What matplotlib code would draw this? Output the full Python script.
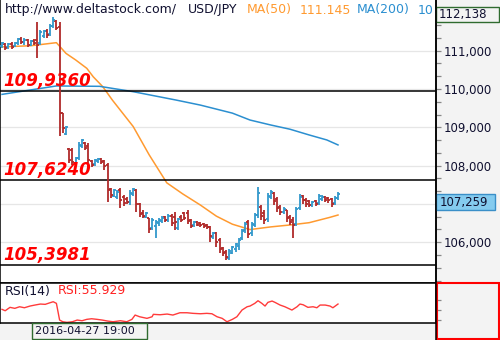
import matplotlib
matplotlib.use("Agg")
import matplotlib.pyplot as plt
from matplotlib.ticker import FixedLocator, MultipleLocator, FuncFormatter
from matplotlib.patches import Rectangle
from matplotlib.lines import Line2D
from matplotlib.transforms import blended_transform_factory


# DATA - hourly USD/JPY bars

opens = [111.12, 111.17, 111.10, 111.17, 111.12, 111.20, 111.31, 111.23, 111.28, 111.15,
         111.25, 111.28, 111.20, 111.38, 111.51, 111.44, 111.65, 111.78, 111.62, 109.37,
         108.83, 108.43, 108.41, 108.07, 108.20, 108.51, 108.59, 108.51, 108.12, 108.04,
         108.12, 108.17, 108.12, 108.02, 107.39, 107.21, 107.18, 107.36, 107.18, 107.13,
         107.05, 107.26, 107.36, 107.00, 106.76, 106.66, 106.63, 106.37, 106.42, 106.50,
         106.55, 106.66, 106.58, 106.68, 106.66, 106.37, 106.66, 106.76, 106.76, 106.58,
         106.45, 106.53, 106.50, 106.47, 106.45, 106.40, 106.14, 106.24, 106.06, 105.85,
         105.74, 105.59, 105.72, 105.82, 105.90, 106.11, 106.32, 106.53, 106.24, 106.45,
         106.71, 106.92, 106.76, 106.61, 107.18, 107.28, 107.13, 106.92, 106.79, 106.83,
         106.66, 106.58, 106.47, 106.89, 107.21, 107.10, 107.07, 106.97, 107.07, 107.02,
         107.13, 107.18, 107.15, 107.13, 107.02, 107.15]
highs = [111.23, 111.20, 111.20, 111.23, 111.23, 111.33, 111.36, 111.33, 111.31, 111.28,
         111.31, 111.75, 111.54, 111.54, 111.57, 111.70, 111.88, 111.80, 111.75, 109.37,
         109.03, 108.46, 108.46, 108.22, 108.62, 108.69, 108.62, 108.59, 108.15, 108.17,
         108.20, 108.20, 108.15, 108.07, 107.42, 107.39, 107.36, 107.42, 107.23, 107.18,
         107.36, 107.42, 107.39, 107.02, 106.84, 106.79, 106.63, 106.63, 106.58, 106.63,
         106.68, 106.68, 106.74, 106.74, 106.79, 106.63, 106.71, 106.79, 106.83, 106.61,
         106.55, 106.55, 106.53, 106.50, 106.47, 106.42, 106.27, 106.27, 106.11, 105.87,
         105.80, 105.82, 105.90, 105.98, 106.11, 106.35, 106.53, 106.58, 106.53, 106.76,
         107.44, 106.97, 106.84, 107.28, 107.36, 107.31, 107.18, 106.97, 106.92, 106.84,
         106.71, 106.66, 106.92, 107.26, 107.23, 107.15, 107.10, 107.07, 107.10, 107.26,
         107.23, 107.21, 107.18, 107.15, 107.21, 107.31]
lows = [111.07, 111.02, 111.04, 111.04, 111.10, 111.15, 111.17, 111.15, 111.10, 111.12,
        111.15, 110.81, 111.15, 111.33, 111.33, 111.38, 111.59, 111.54, 108.77, 108.85,
        108.80, 108.07, 108.02, 108.02, 108.15, 108.46, 108.41, 108.02, 107.96, 107.99,
        108.07, 108.04, 107.89, 107.05, 107.15, 107.18, 107.13, 106.89, 106.95, 107.00,
        106.97, 107.21, 106.79, 106.66, 106.63, 106.63, 106.24, 106.32, 106.11, 106.42,
        106.50, 106.53, 106.53, 106.42, 106.32, 106.32, 106.53, 106.58, 106.47, 106.37,
        106.40, 106.42, 106.40, 106.37, 106.35, 106.01, 106.08, 105.87, 105.72, 105.64,
        105.54, 105.54, 105.69, 105.74, 105.80, 106.06, 106.24, 106.11, 106.16, 106.40,
        106.63, 106.58, 106.47, 106.53, 107.13, 106.97, 106.79, 106.71, 106.74, 106.53,
        106.45, 106.11, 106.42, 106.84, 107.00, 106.92, 106.92, 106.92, 106.95, 106.97,
        107.07, 107.05, 107.02, 106.92, 106.97, 107.10]
closes = [111.20, 111.07, 111.17, 111.10, 111.20, 111.31, 111.23, 111.28, 111.15, 111.25,
          111.20, 111.15, 111.49, 111.51, 111.41, 111.65, 111.80, 111.59, 109.37, 108.98,
          109.01, 108.15, 108.09, 108.20, 108.54, 108.67, 108.46, 108.15, 108.02, 108.15,
          108.17, 108.09, 107.99, 107.36, 107.23, 107.36, 107.31, 107.10, 107.02, 107.05,
          107.28, 107.39, 107.00, 106.74, 106.68, 106.76, 106.35, 106.58, 106.53, 106.58,
          106.63, 106.58, 106.68, 106.50, 106.53, 106.61, 106.58, 106.63, 106.55, 106.42,
          106.53, 106.45, 106.45, 106.42, 106.40, 106.16, 106.24, 106.01, 105.82, 105.72,
          105.61, 105.77, 105.87, 105.95, 106.06, 106.29, 106.47, 106.21, 106.47, 106.71,
          107.28, 106.68, 106.58, 107.21, 107.31, 107.07, 106.89, 106.79, 106.87, 106.63,
          106.53, 106.45, 106.87, 107.18, 107.10, 107.00, 106.97, 107.05, 107.00, 107.21,
          107.18, 107.10, 107.10, 107.00, 107.15, 107.26]

# moving averages, read at a few bar positions
ma50_idx = [0, 9, 17, 20, 23, 26.5, 28.5, 31.5, 34.5, 41, 46, 51.5, 56.5, 62, 67, 72, 77.5, 84, 90, 96, 102.5, 105]
ma50_val = [111.10, 111.13, 111.21, 110.93, 110.76, 110.54, 110.32, 110.06, 109.71, 109.02, 108.28,
            107.55, 107.26, 106.97, 106.68, 106.47, 106.33, 106.40, 106.45, 106.51, 106.65, 106.71]
ma200_idx = [0, 17, 30.5, 41, 54.5, 62, 72, 77.5, 84, 90, 96, 101.5, 105]
ma200_val = [109.86, 110.08, 110.07, 109.93, 109.71, 109.58, 109.37, 109.19, 109.06, 108.95,
             108.80, 108.67, 108.54]

# RSI(14)
rsi_idx = [0, 1, 2.5, 4, 5.5, 7, 8.75, 10.3, 12, 13.5, 15, 16, 17, 18, 19, 20.3, 22, 23.5, 25,
           26.5, 28, 29.7, 31.3, 33, 34.7, 37, 39, 40.6, 41.6, 43, 45.3, 46.9, 47.3, 49.4, 51.6,
           53.4, 55.6, 57.8, 59.7, 62, 64, 65.6, 67.2, 68.8, 70.3, 72, 73.4, 75, 76.6, 77.5, 79,
           80, 81.2, 82.2, 83.1, 84.4, 85.3, 86.9, 88.4, 90.6, 92.2, 93.1, 94.1, 95.6, 97.2, 98.4,
           99.4, 101, 102.5, 103.4, 105]
rsi_val = [45.3, 42.5, 49.3, 47.3, 50.5, 48.5, 51.9, 53.9, 55.9, 55.3, 58.5, 60.5, 57.3, 23.9,
           20.5, 19.3, 20.5, 23.9, 22.5, 25.3, 26.5, 25.3, 23.9, 21.9, 20.5, 22.5, 20.5, 25.3,
           33.9, 30.5, 27.3, 30.5, 35.3, 34.5, 35.9, 33.9, 38.5, 38.5, 37.3, 36.5, 37.3, 36.5,
           30.5, 27.3, 20.5, 25.3, 30.5, 43.9, 50.5, 51.9, 57.3, 62.5, 57.3, 51.9, 59.3, 61.9,
           59.3, 53.9, 50.5, 43.9, 50.5, 55.9, 54.5, 49.3, 50.5, 48.5, 53.9, 53.9, 51.9, 48.5,
           55.929]

levels = [109.936, 107.624, 105.3981]
level_labels = ["109,9360", "107,6240", "105,3981"]
price_ticks = [106, 107, 108, 109, 110, 111]
hidden_tick = 107  # sits under the last-price box
high_price = 112.138
last_price = 107.259
cursor_time = "2016-04-27 19:00"


# COLOURS

UP = "#3399cc"
DOWN = "#b02a2a"
MA50_C = "#ff9a30"
MA200_C = "#2b8fd0"
TXT = "#101030"
PANEL = "#f3f3f3"

fig = plt.figure(figsize=(5, 3.4), dpi=100, facecolor=PANEL)

ax = fig.add_axes([0, 57 / 340, 436 / 500, 283 / 340])
rsi_ax = fig.add_axes([0, 17 / 340, 436 / 500, 40 / 340])

n = len(opens)
xs = list(range(n))
colors = [UP if c >= o else DOWN for o, c in zip(opens, closes)]


# MAIN PRICE PANEL

ax.set_facecolor("white")
ax.set_xlim(-0.625, 135.625)
ax.set_ylim(104.935, 112.324)

ax.vlines(xs, lows, highs, colors=colors, lw=1.3, zorder=3)
ax.hlines(opens, [x - 0.6 for x in xs], xs, colors=colors, lw=1.3, zorder=3)
ax.hlines(closes, xs, [x + 0.6 for x in xs], colors=colors, lw=1.3, zorder=3)

ax.plot(ma50_idx, ma50_val, color=MA50_C, lw=1.1, zorder=2)
ax.plot(ma200_idx, ma200_val, color=MA200_C, lw=1.1, zorder=2)

for lvl, lab in zip(levels, level_labels):
    ax.axhline(lvl, color="black", lw=1.1, zorder=2)
    ax.annotate(lab, xy=(0.007, lvl), xycoords=("axes fraction", "data"),
                xytext=(0, 3.8), textcoords="offset points",
                fontsize=12, fontweight="bold", fontstyle="italic",
                color="#ff0000", va="baseline", ha="left", zorder=5)

ax.grid(axis="y", which="major", color="#e6e6e6", lw=0.9)
ax.set_axisbelow(True)


def price_fmt(v, p):
    if abs(v - hidden_tick) < 1e-6:
        return ""
    return f"{v:.3f}".replace(".", ",")


ax.yaxis.tick_right()
ax.yaxis.set_major_locator(FixedLocator(price_ticks))
ax.yaxis.set_minor_locator(MultipleLocator(1 / 3))
ax.yaxis.set_major_formatter(FuncFormatter(price_fmt))
ax.tick_params(axis="y", which="both", direction="out", length=3.5, width=0.9,
               color="#888888", labelcolor=TXT, labelsize=8.5, pad=2)
ax.set_xticks([])

ax.spines["top"].set_visible(False)
for s in ["left", "right", "bottom"]:
    ax.spines[s].set_color("black")
    ax.spines[s].set_linewidth(1.1)

# header
hy = 1 - 10 / 283
ax.text(5 / 436, hy, "http://www.deltastock.com/", transform=ax.transAxes,
        fontsize=9, color=TXT, va="center", clip_on=True)
ax.text(188 / 436, hy, "USD/JPY", transform=ax.transAxes,
        fontsize=9, color=TXT, va="center", clip_on=True)
ax.text(247 / 436, hy, "MA(50)", transform=ax.transAxes,
        fontsize=9, color=MA50_C, va="center", clip_on=True)
ax.text(300 / 436, hy, "111.145", transform=ax.transAxes,
        fontsize=9, color=MA50_C, va="center", clip_on=True)
ax.text(357 / 436, hy, "MA(200)", transform=ax.transAxes,
        fontsize=9, color=MA200_C, va="center", clip_on=True)
ax.text(418 / 436, hy, "10", transform=ax.transAxes,
        fontsize=9, color=MA200_C, va="center", clip_on=True)

# price boxes on the right scale
bt = blended_transform_factory(fig.transFigure, ax.transData)
ax.add_patch(Rectangle((436 / 500, high_price - 0.39), 63 / 500, 0.39, transform=bt,
                       facecolor=PANEL, edgecolor="#2f6b2f", lw=1.0, clip_on=False, zorder=6))
ax.text(439 / 500, high_price - 0.195, f"{high_price:.3f}".replace(".", ","), transform=bt,
        fontsize=8.5, color=TXT, va="center", ha="left", zorder=7, clip_on=False)
ax.add_patch(Rectangle((436 / 500, last_price - 0.42), 59 / 500, 0.42, transform=bt,
                       facecolor="#84cbef", edgecolor="#3a8fc8", lw=1.0, clip_on=False, zorder=6))
ax.text(440 / 500, last_price - 0.21, f"{last_price:.3f}".replace(".", ","), transform=bt,
        fontsize=8.5, color=TXT, va="center", ha="left", zorder=7, clip_on=False)


# RSI PANEL

rsi_ax.set_facecolor("white")
rsi_ax.set_xlim(-0.625, 135.625)
rsi_ax.set_ylim(18, 98)
rsi_ax.plot(rsi_idx, rsi_val, color="#ff3b3b", lw=1.0)
rsi_ax.set_xticks([])
rsi_ax.yaxis.tick_right()
rsi_ax.set_yticks([25, 45, 65])
rsi_ax.set_yticklabels([])
rsi_ax.tick_params(axis="y", direction="out", length=3.5, width=0.9, color="#888888")
for s in rsi_ax.spines.values():
    s.set_color("black")
    s.set_linewidth(1.1)

rsi_ax.text(5 / 436, 0.8, "RSI(14)", transform=rsi_ax.transAxes,
            fontsize=9, color=TXT, va="center")
rsi_ax.text(58 / 436, 0.8, f"RSI:{rsi_val[-1]:.3f}", transform=rsi_ax.transAxes,
            fontsize=9, color="#ff2020", va="center")

# red box beside the RSI panel
fig.patches.append(Rectangle((436.5 / 500, 1 / 340), 62.5 / 500, 56 / 340,
                             transform=fig.transFigure, facecolor="none",
                             edgecolor="#ff0000", lw=1.5))

# vertical scale border through the whole height
fig.add_artist(Line2D([436 / 500, 436 / 500], [0, 1], transform=fig.transFigure,
                      color="black", lw=1.1))

# cursor time box in the bottom strip
fig.patches.append(Rectangle((32 / 500, 1 / 340), 115 / 500, 16 / 340,
                             transform=fig.transFigure, facecolor=PANEL,
                             edgecolor="#2f6b2f", lw=1.0))
fig.text(35 / 500, 9 / 340, cursor_time, fontsize=8, color=TXT, va="center", ha="left")

fig.savefig("out.png", dpi=100, facecolor=PANEL)
